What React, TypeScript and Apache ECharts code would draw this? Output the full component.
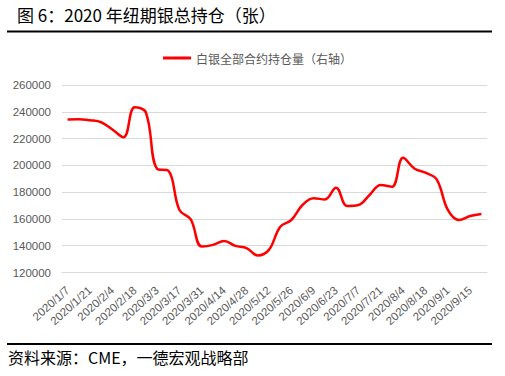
import React, { useEffect, useRef } from "react";
import * as echarts from "echarts";

const dates: string[] = [
  "2020/1/7", "2020/1/14", "2020/1/21", "2020/1/28", "2020/2/4", "2020/2/11",
  "2020/2/18", "2020/2/25", "2020/3/3", "2020/3/10", "2020/3/17", "2020/3/24",
  "2020/3/31", "2020/4/7", "2020/4/14", "2020/4/21", "2020/4/28", "2020/5/5",
  "2020/5/12", "2020/5/19", "2020/5/26", "2020/6/2", "2020/6/9", "2020/6/16",
  "2020/6/23", "2020/6/30", "2020/7/7", "2020/7/14", "2020/7/21", "2020/7/28",
  "2020/8/4", "2020/8/11", "2020/8/18", "2020/8/25", "2020/9/1", "2020/9/8",
  "2020/9/15", "2020/9/22",
];

const silverOI: number[] = [
  234300, 234500, 233700, 232200, 226800, 221000,
  243300, 239500, 197500, 196000, 166700, 159800,
  139400, 140600, 143600, 139900, 138200, 132700,
  136900, 154000, 159200, 170400, 175400, 174600,
  183300, 169700, 170400, 177900, 185300, 184000,
  205600, 197700, 194500, 189500, 166700, 159200,
  162200, 163700,
];

const yTicks: number[] = [120000, 140000, 160000, 180000, 200000, 220000, 240000, 260000];

const seriesName = "白银全部合约持仓量（右轴）";
const titleText = "图 6：2020 年纽期银总持仓（张）";
const sourceText = "资料来源：CME，一德宏观战略部";

export default function App() {
  const ref = useRef<HTMLDivElement>(null);
  useEffect(() => {
    if (!ref.current) return;
    const chart = echarts.init(ref.current, undefined, { renderer: "svg" });
    const font = '"Noto Sans CJK SC", "Microsoft YaHei", sans-serif';
    const latin = 'Arial, "Liberation Sans", sans-serif';
    chart.setOption({
      animation: false,
      backgroundColor: "#ffffff",
      textStyle: { fontFamily: font },
      graphic: [
        {
          type: "text",
          left: 17,
          top: 6,
          style: { text: titleText, fontSize: 17, fill: "#000000", fontFamily: font },
        },
        {
          type: "line",
          shape: { x1: 7, y1: 31.5, x2: 492, y2: 31.5 },
          style: { stroke: "#000000", lineWidth: 2 },
        },
        {
          type: "line",
          shape: { x1: 7, y1: 344, x2: 492, y2: 344 },
          style: { stroke: "#000000", lineWidth: 2 },
        },
        {
          type: "text",
          left: 8,
          top: 349,
          style: { text: sourceText, fontSize: 16, fill: "#000000", fontFamily: font },
        },
      ],
      legend: {
        left: 158,
        top: 47,
        icon: "rect",
        itemWidth: 28,
        itemHeight: 3,
        itemGap: 6,
        textStyle: { fontSize: 12, color: "#595959", fontFamily: font },
        data: [seriesName],
      },
      grid: { left: 62, right: 18, top: 85, bottom: 103.5, containLabel: false },
      xAxis: {
        type: "category",
        data: dates,
        boundaryGap: true,
        axisLine: { show: true, lineStyle: { color: "#d9d9d9" } },
        axisTick: { show: false },
        axisLabel: {
          interval: 1,
          rotate: 42,
          fontSize: 11.5,
          color: "#595959",
          margin: 16,
          fontFamily: latin,
        },
      },
      yAxis: {
        type: "value",
        min: yTicks[0],
        max: yTicks[yTicks.length - 1],
        interval: 20000,
        axisLine: { show: false },
        axisTick: { show: false },
        splitLine: { lineStyle: { color: "#d9d9d9", width: 1 } },
        axisLabel: {
          fontSize: 11.5,
          color: "#595959",
          margin: 11,
          fontFamily: latin,
          formatter: (v: number) => String(v),
        },
      },
      series: [
        {
          name: seriesName,
          type: "line",
          data: silverOI,
          smooth: 0.4,
          symbol: "none",
          lineStyle: { color: "#ff0000", width: 2.5 },
          itemStyle: { color: "#ff0000" },
        },
      ],
    });
    return () => chart.dispose();
  }, []);
  return (
    <div
      ref={ref}
      style={{ position: "absolute", left: 0, top: 0, width: 505, height: 376 }}
    />
  );
}
